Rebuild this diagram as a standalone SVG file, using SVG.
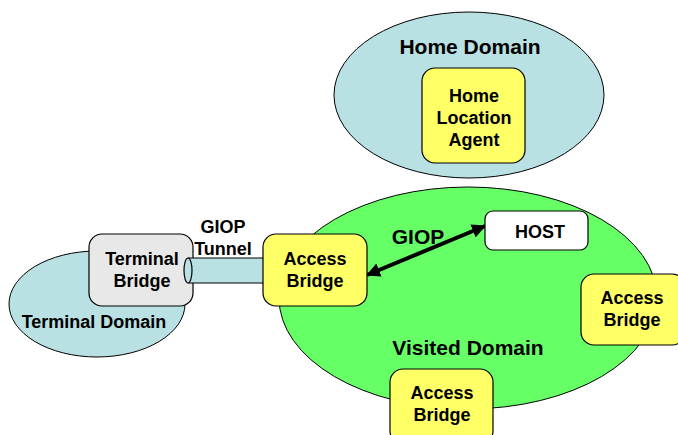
<svg xmlns="http://www.w3.org/2000/svg" width="678" height="435" viewBox="0 0 678 435">
  <style>
    .domain { fill: #b9e0e2; stroke: #000; stroke-width: 1; }
    .visited { fill: #66ff66; stroke: #000; stroke-width: 1; }
    .bridge { fill: #ffff66; stroke: #000; stroke-width: 1.2; }
    .terminal { fill: #e8e8e8; stroke: #000; stroke-width: 1.2; }
    .host { fill: #ffffff; stroke: #000; stroke-width: 1.2; }
    .tube { fill: #b9e0e2; stroke: #000; stroke-width: 1.2; }
    text { font-family: "Liberation Sans", Arial, sans-serif; font-weight: bold; fill: #000; text-anchor: middle; }
    .lbl { font-size: 18px; }
    .big { font-size: 21px; }
  </style>
  <defs>
    <marker id="head" viewBox="0 0 14 14" refX="13" refY="7" markerWidth="14" markerHeight="14" markerUnits="userSpaceOnUse" orient="auto-start-reverse">
      <path d="M0,0 L14,7 L0,14 Z" fill="#000"/>
    </marker>
  </defs>

  <!-- Home domain with its location agent -->
  <g id="home-domain">
    <ellipse class="domain" cx="469" cy="95" rx="135" ry="83"/>
    <text class="big" x="470" y="54">Home Domain</text>
  </g>
  <g id="home-location-agent">
    <rect class="bridge" x="422" y="68" width="103" height="95" rx="13"/>
    <text class="lbl" x="474" y="102">Home</text>
    <text class="lbl" x="474" y="124">Location</text>
    <text class="lbl" x="474" y="146">Agent</text>
  </g>

  <!-- Visited domain -->
  <g id="visited-domain">
    <ellipse class="visited" cx="468" cy="298" rx="189" ry="111"/>
    <text class="big" x="468" y="355">Visited Domain</text>
  </g>

  <!-- Terminal domain -->
  <g id="terminal-domain">
    <ellipse class="domain" cx="97" cy="304" rx="88" ry="53"/>
    <text class="lbl" x="94" y="328">Terminal Domain</text>
  </g>
  <g id="terminal-bridge">
    <rect class="terminal" x="89" y="234" width="104" height="72" rx="13"/>
    <text class="lbl" x="142" y="265">Terminal</text>
    <text class="lbl" x="142" y="287">Bridge</text>
  </g>

  <!-- Connectors -->
  <g id="connectors">
    <g id="giop-tunnel">
      <ellipse class="tube" cx="263" cy="270.5" rx="4" ry="12.5"/>
      <rect x="188" y="258" width="75" height="25" fill="#b9e0e2"/>
      <line x1="188" y1="258" x2="263" y2="258" stroke="#000" stroke-width="1.2"/>
      <line x1="188" y1="283" x2="263" y2="283" stroke="#000" stroke-width="1.2"/>
      <ellipse class="tube" cx="188" cy="270.5" rx="4" ry="12.5"/>
      <text class="lbl" x="223" y="233">GIOP</text>
      <text class="lbl" x="223" y="255">Tunnel</text>
    </g>
    <g id="giop-link">
      <line x1="367" y1="275" x2="485" y2="226" stroke="#000" stroke-width="4" marker-start="url(#head)" marker-end="url(#head)"/>
      <text class="big" x="418" y="244">GIOP</text>
    </g>
  </g>

  <!-- Access bridges and host -->
  <g id="access-bridge-west">
    <rect class="bridge" x="263" y="234" width="104" height="72" rx="13"/>
    <text class="lbl" x="315" y="265">Access</text>
    <text class="lbl" x="315" y="287">Bridge</text>
  </g>
  <g id="host">
    <rect class="host" x="485" y="211" width="103" height="39" rx="8"/>
    <text class="lbl" x="540" y="238">HOST</text>
  </g>
  <g id="access-bridge-east">
    <rect class="bridge" x="581" y="274" width="104" height="71" rx="13"/>
    <text class="lbl" x="632" y="304">Access</text>
    <text class="lbl" x="632" y="326">Bridge</text>
  </g>
  <g id="access-bridge-south">
    <rect class="bridge" x="390" y="369" width="103" height="75" rx="13"/>
    <text class="lbl" x="442" y="399">Access</text>
    <text class="lbl" x="442" y="421">Bridge</text>
  </g>
</svg>
